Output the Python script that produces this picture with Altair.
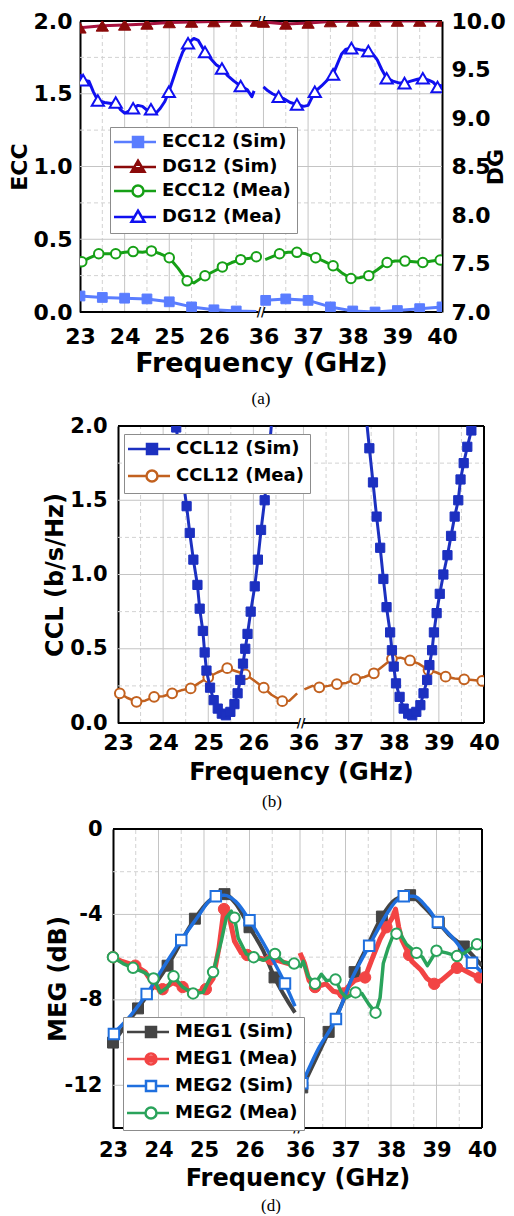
import altair as alt
import pandas as pd

FONT = "DejaVu Sans"
SERIF = "Liberation Serif"
G = 0.11  # width of the axis break, in GHz units of the compressed axis

XTICKS = [23, 24, 25, 26, 36, 37, 38, 39, 40]
XMAJOR = [24, 25, 26, 36, 37, 38, 39]
XMINOR = [23.5, 24.5, 25.5, 26.5, 36.5, 37.5, 38.5, 39.5]
SEG_LO = [23, 36]
SEG_HI = [27, 40]

# ---------------- panel (a) data ----------------
ECCS_L_F = [23.0, 23.5, 24.0, 24.5, 25.0, 25.5, 26.0, 26.5, 26.95]
ECCS_L_V = [0.11, 0.10, 0.095, 0.09, 0.07, 0.035, 0.015, 0.007, 0.003]
ECCS_R_F = [36.05, 36.5, 37.0, 37.5, 38.0, 38.5, 39.0, 39.5, 40.0]
ECCS_R_V = [0.08, 0.09, 0.08, 0.035, 0.007, 0.0, 0.01, 0.023, 0.035]

DGS_L_F = [23.0, 23.5, 24.0, 24.5, 25.0, 25.5, 26.0, 26.5, 26.95]
DGS_L_V = [9.93, 9.95, 9.96, 9.97, 9.985, 9.99, 9.995, 10.0, 10.0]
DGS_R_F = [36.0, 36.5, 37.0, 37.5, 38.0, 38.5, 39.0, 39.5, 40.0]
DGS_R_V = [9.99, 9.97, 9.98, 9.995, 10.0, 10.0, 10.0, 10.0, 10.0]

ECCM_L_F = [23.0, 23.04, 23.2, 23.42, 23.6, 23.8, 24.0, 24.19, 24.4, 24.6, 24.8, 25.0, 25.2, 25.4,
            25.55, 25.7, 25.8, 26.0, 26.19, 26.4, 26.6, 26.8, 26.95]
ECCM_L_V = [0.34, 0.345, 0.37, 0.40, 0.40, 0.40, 0.41, 0.415, 0.41, 0.42, 0.40, 0.373, 0.30, 0.214,
            0.20, 0.23, 0.249, 0.28, 0.31, 0.34, 0.36, 0.37, 0.38]
ECCM_R_F = [36.04, 36.2, 36.36, 36.55, 36.75, 36.95, 37.17, 37.35, 37.56, 37.75, 37.96, 38.15, 38.36,
            38.55, 38.77, 38.95, 39.17, 39.37, 39.57, 39.77, 39.96]
ECCM_R_V = [0.36, 0.38, 0.40, 0.41, 0.41, 0.40, 0.373, 0.35, 0.318, 0.27, 0.23, 0.235, 0.25,
            0.29, 0.34, 0.35, 0.35, 0.345, 0.34, 0.35, 0.357]
ECCM_MK_L_F = [23.04, 23.42, 23.8, 24.19, 24.6, 25.0, 25.4, 25.8, 26.19, 26.6, 26.95]
ECCM_MK_L_V = [0.345, 0.40, 0.40, 0.415, 0.42, 0.373, 0.214, 0.249, 0.31, 0.36, 0.38]
ECCM_MK_R_F = [36.36, 36.75, 37.17, 37.56, 37.96, 38.36, 38.77, 39.17, 39.57, 39.96]
ECCM_MK_R_V = [0.40, 0.41, 0.373, 0.318, 0.23, 0.25, 0.34, 0.35, 0.34, 0.357]

DGM_L_F = [23.0, 23.07, 23.2, 23.3, 23.4, 23.55, 23.7, 23.8, 23.9, 24.0, 24.1, 24.19, 24.3, 24.4, 24.5,
           24.59, 24.7, 24.8, 24.9, 24.99, 25.1, 25.2, 25.3, 25.42, 25.55, 25.65, 25.8, 25.95, 26.05,
           26.18, 26.3, 26.45, 26.6, 26.75, 26.85, 26.9]
DGM_L_V = [9.45, 9.39, 9.38, 9.27, 9.18, 9.16, 9.15, 9.16, 9.09, 9.05, 9.07, 9.10, 9.13, 9.12, 9.08,
           9.09, 9.05, 9.10, 9.17, 9.27, 9.42, 9.56, 9.68, 9.77, 9.82, 9.80, 9.68, 9.60, 9.55,
           9.51, 9.44, 9.38, 9.33, 9.29, 9.22, 9.28]
DGM_R_F = [36.0, 36.1, 36.2, 36.34, 36.45, 36.6, 36.75, 36.9, 37.0, 37.15, 37.3, 37.45, 37.56, 37.65,
           37.75, 37.85, 37.97, 38.1, 38.2, 38.35, 38.45, 38.55, 38.65, 38.76, 38.9, 39.05, 39.16,
           39.3, 39.45, 39.57, 39.7, 39.8, 39.9, 40.0]
DGM_R_V = [9.32, 9.28, 9.25, 9.22, 9.20, 9.16, 9.14, 9.12, 9.13, 9.27, 9.33, 9.40, 9.45, 9.55,
           9.66, 9.71, 9.72, 9.71, 9.70, 9.69, 9.66, 9.60, 9.50, 9.41, 9.38, 9.36, 9.36,
           9.38, 9.40, 9.41, 9.39, 9.37, 9.32, 9.34]
DGM_MK_L_F = [23.07, 23.4, 23.8, 24.19, 24.59, 24.99, 25.42, 25.8, 26.18, 26.6]
DGM_MK_L_V = [9.39, 9.18, 9.16, 9.10, 9.09, 9.27, 9.77, 9.68, 9.51, 9.33]
DGM_MK_R_F = [36.34, 36.75, 37.15, 37.56, 37.97, 38.35, 38.76, 39.16, 39.57, 39.9]
DGM_MK_R_V = [9.22, 9.14, 9.27, 9.45, 9.72, 9.69, 9.41, 9.36, 9.41, 9.32]

# ---------------- panel (b) data ----------------
CCLS_L_F = [24.2, 24.29, 24.52, 24.59, 24.67, 24.76, 24.81, 24.88, 24.92, 24.96, 25.04, 25.12, 25.21,
            25.3, 25.39, 25.49, 25.58, 25.65, 25.71, 25.77, 25.82, 25.87, 25.94, 26.03, 26.1, 26.17,
            26.25, 26.5]
CCLS_L_V = [2.25, 1.99, 1.46, 1.28, 1.10, 0.93, 0.77, 0.62, 0.475, 0.353, 0.238, 0.154, 0.097,
            0.063, 0.052, 0.075, 0.127, 0.20, 0.29, 0.40, 0.50, 0.60, 0.75, 0.92, 1.10, 1.30,
            1.50, 2.35]
CCLS_R_F = [37.35, 37.41, 37.46, 37.54, 37.62, 37.7, 37.77, 37.84, 37.92, 37.96, 38.0, 38.05, 38.13,
            38.22, 38.32, 38.41, 38.5, 38.59, 38.66, 38.74, 38.79, 38.85, 38.89, 38.95, 39.02, 39.1,
            39.19, 39.27, 39.35, 39.43, 39.48, 39.55, 39.63, 39.72, 39.8]
CCLS_R_V = [2.2, 2.0, 1.85, 1.62, 1.39, 1.18, 0.97, 0.78, 0.61, 0.49, 0.38, 0.267, 0.176,
            0.097, 0.063, 0.052, 0.075, 0.12, 0.20, 0.29, 0.39, 0.49, 0.61, 0.74, 0.87, 1.0,
            1.13, 1.26, 1.39, 1.50, 1.64, 1.75, 1.86, 1.97, 2.1]

CCLM_L_F = [23.0, 23.04, 23.2, 23.41, 23.6, 23.8, 24.0, 24.2, 24.4, 24.61, 24.8, 25.0, 25.2, 25.42,
            25.6, 25.82, 26.0, 26.23, 26.4, 26.64, 26.8, 26.97]
CCLM_L_V = [0.21, 0.20, 0.17, 0.143, 0.15, 0.176, 0.18, 0.20, 0.22, 0.233, 0.27, 0.308, 0.34, 0.369,
            0.35, 0.328, 0.29, 0.238, 0.19, 0.147, 0.15, 0.20]
CCLM_R_F = [36.02, 36.2, 36.35, 36.55, 36.74, 36.95, 37.15, 37.35, 37.56, 37.75, 37.96, 38.15, 38.36,
            38.55, 38.77, 38.95, 39.15, 39.35, 39.56, 39.75, 39.96]
CCLM_R_V = [0.226, 0.25, 0.24, 0.25, 0.262, 0.27, 0.296, 0.31, 0.335, 0.38, 0.432, 0.44, 0.421,
            0.40, 0.357, 0.34, 0.312, 0.30, 0.294, 0.29, 0.283]
CCLM_MK_L_F = [23.04, 23.41, 23.8, 24.2, 24.61, 25.0, 25.42, 25.82, 26.23, 26.64]
CCLM_MK_L_V = [0.20, 0.143, 0.176, 0.20, 0.233, 0.308, 0.369, 0.328, 0.238, 0.147]
CCLM_MK_R_F = [36.35, 36.74, 37.15, 37.56, 37.96, 38.36, 38.77, 39.15, 39.56, 39.96]
CCLM_MK_R_V = [0.24, 0.262, 0.296, 0.335, 0.432, 0.421, 0.357, 0.312, 0.294, 0.283]

# ---------------- panel (d) data ----------------
M1S_L_F = [23.0, 23.55, 24.2, 24.8, 25.1, 25.45, 25.7, 26.0, 26.3, 26.55, 27.0]
M1S_L_V = [-10.0, -8.4, -6.4, -4.2, -3.4, -3.05, -3.5, -4.6, -5.7, -6.95, -8.6]
M1S_R_F = [36.05, 36.63, 36.9, 37.2, 37.5, 37.8, 38.1, 38.42, 38.7, 39.05, 39.3, 39.6, 40.0]
M1S_R_V = [-12.1, -9.5, -8.3, -6.7, -5.4, -4.1, -3.3, -3.1, -3.6, -4.4, -5.0, -5.5, -6.4]
M1S_MK_L_F = [23.0, 23.55, 24.2, 24.8, 25.45, 26.0, 26.55]
M1S_MK_L_V = [-10.0, -8.4, -6.4, -4.2, -3.05, -4.6, -6.95]
M1S_MK_R_F = [36.05, 36.63, 37.2, 37.8, 38.42, 39.05, 39.6]
M1S_MK_R_V = [-12.1, -9.5, -6.7, -4.1, -3.1, -4.4, -5.5]

M2S_L_F = [23.0, 23.4, 23.74, 24.1, 24.5, 24.9, 25.1, 25.26, 25.45, 25.7, 26.0, 26.4, 26.78, 27.0]
M2S_L_V = [-9.6, -8.7, -7.73, -6.5, -5.2, -4.0, -3.4, -3.15, -3.1, -3.4, -4.27, -5.7, -7.23, -8.3]
M2S_R_F = [36.05, 36.4, 36.79, 37.1, 37.52, 37.9, 38.1, 38.28, 38.5, 38.8, 39.03, 39.4, 39.78, 40.0]
M2S_R_V = [-11.9, -10.3, -8.9, -7.2, -5.47, -4.0, -3.4, -3.15, -3.15, -3.7, -4.35, -5.2, -6.26, -6.7]
M2S_MK_L_F = [23.02, 23.74, 24.5, 25.26, 26.0, 26.78]
M2S_MK_L_V = [-9.6, -7.73, -5.2, -3.15, -4.27, -7.23]
M2S_MK_R_F = [36.05, 36.79, 37.52, 38.28, 39.03, 39.78]
M2S_MK_R_V = [-11.9, -8.9, -5.47, -3.15, -4.35, -6.26]

M1M_L_F = [23.0, 23.2, 23.49, 23.71, 23.93, 24.09, 24.31, 24.53, 24.78, 25.04, 25.2, 25.33, 25.44,
           25.56, 25.67, 25.82, 26.04, 26.31, 26.53, 26.76, 27.0]
M1M_L_V = [-6.0, -6.2, -6.4, -6.7, -7.4, -7.5, -7.2, -7.4, -7.7, -7.5, -7.0, -5.55, -3.75,
           -4.15, -5.25, -5.8, -5.95, -6.1, -6.1, -6.25, -6.4]
M1M_R_F = [36.0, 36.1, 36.2, 36.33, 36.57, 36.73, 36.95, 37.05, 37.2, 37.43, 37.6, 37.76, 37.9,
           38.03, 38.1, 38.17, 38.24, 38.4, 38.46, 38.66, 38.79, 38.95, 39.1, 39.32, 39.45, 39.6,
           39.82, 40.0]
M1M_R_V = [-5.8, -6.3, -7.1, -7.4, -7.25, -7.6, -7.7, -7.4, -7.1, -6.95, -6.0, -5.15, -4.6,
           -4.15, -3.75, -4.6, -5.2, -5.9, -6.2, -6.6, -7.0, -7.25, -7.1, -6.7, -6.5, -6.6,
           -6.85, -7.0]
M1M_MK_L_F = [23.0, 23.49, 24.09, 24.53, 25.04, 25.44, 25.95, 26.47]
M1M_MK_L_V = [-6.0, -6.4, -7.5, -7.4, -7.5, -3.75, -5.9, -6.1]
M1M_MK_R_F = [36.33, 36.95, 37.43, 37.9, 38.4, 38.95, 39.45, 39.95]
M1M_MK_R_V = [-7.4, -7.7, -6.95, -4.6, -5.9, -7.25, -6.5, -6.95]

M2M_L_F = [23.0, 23.22, 23.44, 23.67, 23.89, 24.04, 24.2, 24.33, 24.53, 24.76, 24.98, 25.2, 25.38,
           25.49, 25.6, 25.67, 25.75, 25.93, 26.09, 26.31, 26.56, 26.76, 26.98]
M2M_L_V = [-6.0, -6.3, -6.5, -6.7, -7.0, -7.65, -7.4, -6.9, -7.4, -7.7, -7.65, -6.7, -5.25,
           -4.15, -3.85, -4.15, -5.1, -5.85, -6.0, -6.15, -5.85, -6.25, -6.3]
M2M_R_F = [36.0, 36.07, 36.18, 36.33, 36.47, 36.58, 36.78, 36.91, 37.02, 37.22, 37.36, 37.51, 37.66,
           37.76, 37.83, 37.94, 38.07, 38.2, 38.34, 38.56, 38.69, 38.8, 39.0, 39.22, 39.45, 39.62,
           39.89, 40.0]
M2M_R_V = [-6.5, -6.2, -6.9, -7.25, -6.8, -7.1, -7.05, -7.65, -7.9, -7.65, -7.7, -8.2, -8.6,
           -7.9, -6.3, -5.55, -4.85, -4.9, -5.4, -5.8, -6.0, -6.4, -5.7, -5.8, -5.95, -5.8,
           -5.4, -5.3]
M2M_MK_L_F = [23.0, 23.44, 23.89, 24.33, 24.76, 25.2, 25.67, 26.09, 26.56, 26.98]
M2M_MK_L_V = [-6.0, -6.5, -7.0, -6.9, -7.7, -6.7, -4.15, -6.0, -5.85, -6.3]
M2M_MK_R_F = [36.33, 36.78, 37.22, 37.66, 38.12, 38.56, 39.0, 39.45, 39.89]
M2M_MK_R_V = [-7.25, -7.05, -7.65, -8.6, -4.9, -5.8, -5.7, -5.95, -5.4]

# ---------------- colours ----------------
C_ECCS = "#5a7dff"
C_DGS_LINE = "#a8123f"
C_DGS_MK = "#8b0a0a"
C_ECCM = "#16a016"
C_DGM = "#1010f0"
C_CCLS = "#1c30c0"
C_CCLM = "#c2611f"
C_M1S = "#444444"
C_M1M = "#f24444"
C_M2S = "#1f6fde"
C_M2M = "#2aa35b"
GRID = "#c4c4c4"
GRID_MINOR = "#d2d2d2"

# ---------------- legend symbol paths (line + marker) ----------------
LINE_SQ = "M-4.8,0H-1M1,0H3.6"
SQ_OPEN = LINE_SQ + "M-1,-1H1V1H-1Z"
SQ_FILL = SQ_OPEN + "M-1,-0.5H1M-1,0H1M-1,0.5H1"
CI_OPEN = "M-4.8,0H-1.1M1.1,0H3.6M-1.1,0A1.1,1.1,0,1,1,1.1,0A1.1,1.1,0,1,1,-1.1,0Z"
CI_FILL = CI_OPEN + "M-0.95,-0.5H0.95M-1.1,0H1.1M-0.95,0.5H0.95"
TR_OPEN = "M-4.8,0H-0.71M0.71,0H3.6M0,-1.25L1.3,0.95L-1.3,0.95Z"
TR_FILL = TR_OPEN + "M-0.5,-0.45H0.5M-0.95,0.25H0.95M-1.2,0.65H1.2"

PANEL_A = dict(W=362, H=291, r0=0, ydom=[0, 2], yticks=[0, 0.5, 1.0, 1.5, 2.0],
               ymajor=[0.5, 1.0, 1.5], yminor=[0.25, 0.75, 1.25, 1.75], fmt=".1f",
               ytitle="ECC", ylfs=22, ylp=8, ytfs=22, ytp=2, off=0,
               xlfs=22, xlp=14, xtfs=27, xtp=3, label="(a)", toff=15, tdx=0)
PANEL_B = dict(W=404, H=297, r0=38, ydom=[0, 2], yticks=[0, 0.5, 1.0, 1.5, 2.0],
               ymajor=[0.5, 1.0, 1.5], yminor=[0.25, 0.75, 1.25, 1.75], fmt=".1f",
               ytitle="CCL (b/s/Hz)", ylfs=21, ylp=11, ytfs=24, ytp=2, off=-38,
               xlfs=22, xlp=9, xtfs=24, xtp=7, label="(b)", toff=10, tdx=-10)
PANEL_D = dict(W=402, H=299, r0=33, ydom=[-14, 0], yticks=[-12, -8, -4, 0],
               ymajor=[-12, -8, -4], yminor=[-10, -6, -2], fmt="d",
               ytitle="MEG (dB)", ylfs=21, ylp=11, ytfs=24, ytp=-6, off=-33,
               xlfs=21, xlp=11, xtfs=24, xtp=6, label="(d)", toff=8, tdx=-10)


def xp(f):
    return f if f < 30 else f - 9 + G


def XP(field):
    return f"datum.{field} < 30 ? datum.{field} : datum.{field} - 9 + {G}"


def X(P, field="xp"):
    axis = alt.Axis(
        values=[xp(v) for v in XTICKS],
        labelExpr=f"datum.value < 27.05 ? format(datum.value, 'd') : format(round(datum.value + 9 - {G}), 'd')",
        labelFlush=False, labelOverlap=False, ticks=False, domain=False, grid=False,
        labelFont=FONT, labelFontSize=P["xlfs"], labelFontWeight="bold", labelColor="black",
        labelPadding=P["xlp"], title="Frequency (GHz)", titleFont=FONT, titleFontSize=P["xtfs"],
        titleFontWeight="bold", titleColor="black", titlePadding=P["xtp"])
    scale = alt.Scale(domain=[23, xp(40)], range=[P["r0"], P["W"]], nice=False, zero=False)
    return alt.X(f"{field}:Q", scale=scale, axis=axis)


def Y(P, field="v"):
    axis = alt.Axis(
        values=P["yticks"], labelExpr=f"format(datum.value, '{P['fmt']}')" if P["fmt"] != "d" else "datum.value + ''",
        ticks=False, grid=False, domain=True,
        domainColor="black", domainWidth=2, labelFont=FONT, labelFontSize=P["ylfs"],
        labelFontWeight="bold", labelColor="black", labelPadding=P["ylp"], title=P["ytitle"],
        titleFont=FONT, titleFontSize=P["ytfs"], titleFontWeight="bold", titleColor="black",
        titlePadding=P["ytp"], offset=P["off"])
    return alt.Y(f"{field}:Q", scale=alt.Scale(domain=P["ydom"], nice=False, zero=False), axis=axis)


def Y_DG(field="v"):
    axis = alt.Axis(
        orient="right", values=[7.0, 7.5, 8.0, 8.5, 9.0, 9.5, 10.0], format=".1f", ticks=False,
        grid=False, domain=True, domainColor="black", domainWidth=2, labelFont=FONT,
        labelFontSize=22, labelFontWeight="bold", labelColor="black", labelPadding=9,
        title="DG", titleFont=FONT, titleFontSize=22, titleFontWeight="bold", titleColor="black",
        titleAngle=270, titlePadding=2)
    return alt.Y(f"{field}:Q", scale=alt.Scale(domain=[7, 10], nice=False, zero=False), axis=axis)


def seg_df(xl, yl, xr, yr):
    return pd.DataFrame({
        "f": list(xl) + list(xr),
        "v": list(yl) + list(yr),
        "seg": ["L"] * len(xl) + ["R"] * len(xr),
    })


def line_layer(df, P, color, width, ych=None, interp="linear"):
    y = ych if ych is not None else Y(P)
    return alt.Chart(df).transform_calculate(xp=XP("f")).mark_line(
        color=color, strokeWidth=width, clip=True, interpolate=interp, strokeJoin="round"
    ).encode(x=X(P), y=y, detail="seg:N", order="f:Q")


def pts_layer(df, P, shape, size, stroke, fill, sw=2.0, ych=None):
    y = ych if ych is not None else Y(P)
    return alt.Chart(df).transform_calculate(xp=XP("f")).mark_point(
        shape=shape, size=size, stroke=stroke, fill=fill, filled=True, strokeWidth=sw,
        opacity=1, fillOpacity=1, clip=True
    ).encode(x=X(P), y=y)


def grid_layers(P, top_break):
    lo, hi = P["ydom"]
    vmaj = pd.DataFrame({"f": XMAJOR, "y0": lo, "y1": hi})
    vmin = pd.DataFrame({"f": XMINOR, "y0": lo, "y1": hi})
    hmaj = pd.DataFrame({"v": P["ymajor"], "f0": 23, "f1": 40})
    hmin = pd.DataFrame({"v": P["yminor"], "f0": 23, "f1": 40})
    layers = [
        alt.Chart(vmin).transform_calculate(xp=XP("f")).mark_rule(
            color=GRID_MINOR, strokeWidth=1, strokeDash=[4, 3]).encode(x=X(P), y=Y(P, "y0"), y2="y1:Q"),
        alt.Chart(hmin).transform_calculate(xp=XP("f0"), xp1=XP("f1")).mark_rule(
            color=GRID_MINOR, strokeWidth=1, strokeDash=[4, 3]).encode(x=X(P), x2="xp1:Q", y=Y(P)),
        alt.Chart(vmaj).transform_calculate(xp=XP("f")).mark_rule(
            color=GRID, strokeWidth=1).encode(x=X(P), y=Y(P, "y0"), y2="y1:Q"),
        alt.Chart(hmaj).transform_calculate(xp=XP("f0"), xp1=XP("f1")).mark_rule(
            color=GRID, strokeWidth=1).encode(x=X(P), x2="xp1:Q", y=Y(P)),
    ]
    bottom = pd.DataFrame({"f0": SEG_LO, "f1": SEG_HI, "v": lo})
    if top_break:
        top = pd.DataFrame({"f0": SEG_LO, "f1": SEG_HI, "v": hi})
    else:
        top = pd.DataFrame({"f0": [23], "f1": [40], "v": hi})
    for d in (bottom, top):
        layers.append(alt.Chart(d).transform_calculate(xp=XP("f0"), xp1=XP("f1")).mark_rule(
            color="black", strokeWidth=2).encode(x=X(P), x2="xp1:Q", y=Y(P)))
    if not top_break:
        right = pd.DataFrame({"f": [40], "y0": lo, "y1": hi})
        layers.append(alt.Chart(right).transform_calculate(xp=XP("f")).mark_rule(
            color="black", strokeWidth=2).encode(x=X(P), y=Y(P, "y0"), y2="y1:Q"))
    return layers


def break_layer(P, top_break):
    lo, hi = P["ydom"]
    vals = [lo, hi] if top_break else [lo]
    d = pd.DataFrame({"v": vals})
    return alt.Chart(d).transform_calculate(xp=f"27 + {G} / 2").mark_text(
        text="//", font=FONT, fontSize=12, fontWeight="bold", color="black",
        align="center", baseline="middle").encode(x=X(P), y=Y(P))


def legend_layer(names, colors, paths, lx, ly, rowpad):
    df = pd.DataFrame({"s": names})
    leg = alt.Legend(
        title=None, orient="none", legendX=lx, legendY=ly, direction="vertical",
        labelFont=FONT, labelFontSize=18, labelFontWeight="bold", labelColor="black", labelLimit=400,
        symbolSize=100, symbolStrokeWidth=2.5, symbolOffset=13, labelOffset=15, symbolOpacity=1,
        rowPadding=rowpad, padding=6, strokeColor="#8c8c8c", fillColor="white", cornerRadius=0)
    return alt.Chart(df).mark_point(size=0, opacity=1, filled=False, strokeWidth=2.5).encode(
        color=alt.Color("s:N", scale=alt.Scale(domain=names, range=colors), legend=leg),
        shape=alt.Shape("s:N", scale=alt.Scale(domain=names, range=paths), legend=leg),
    )


def title_of(P):
    return alt.TitleParams(P["label"], orient="bottom", font=SERIF, fontSize=17,
                           fontWeight="normal", color="black", anchor="middle", frame="group",
                           offset=P["toff"], dx=P["tdx"])


# ---------------- panel (a) ----------------
P = PANEL_A
ecc_sim = seg_df(ECCS_L_F, ECCS_L_V, ECCS_R_F, ECCS_R_V)
ecc_sim_mk = seg_df(ECCS_L_F[:-1], ECCS_L_V[:-1], ECCS_R_F, ECCS_R_V)
ecc_mea = seg_df(ECCM_L_F, ECCM_L_V, ECCM_R_F, ECCM_R_V)
ecc_mea_mk = seg_df(ECCM_MK_L_F, ECCM_MK_L_V, ECCM_MK_R_F, ECCM_MK_R_V)
dg_sim = seg_df(DGS_L_F, DGS_L_V, DGS_R_F, DGS_R_V)
dg_mea = seg_df(DGM_L_F, DGM_L_V, DGM_R_F, DGM_R_V)
dg_mea_mk = seg_df(DGM_MK_L_F, DGM_MK_L_V, DGM_MK_R_F, DGM_MK_R_V)

left_a = alt.layer(
    *grid_layers(P, True),
    line_layer(ecc_sim, P, C_ECCS, 3),
    pts_layer(ecc_sim_mk, P, "square", 95, C_ECCS, C_ECCS, 1),
    line_layer(ecc_mea, P, C_ECCM, 3),
    pts_layer(ecc_mea_mk, P, "circle", 90, C_ECCM, "white", 2),
    break_layer(P, True),
)
right_a = alt.layer(
    line_layer(dg_sim, P, C_DGS_LINE, 3, ych=Y_DG()),
    pts_layer(dg_sim, P, "triangle-up", 150, C_DGS_MK, C_DGS_MK, 1, ych=Y_DG()),
    line_layer(dg_mea, P, C_DGM, 3, ych=Y_DG()),
    pts_layer(dg_mea_mk, P, "triangle-up", 150, C_DGM, "white", 2, ych=Y_DG()),
)
leg_a = legend_layer(
    ["ECC12 (Sim)", "DG12 (Sim)", "ECC12 (Mea)", "DG12 (Mea)"],
    [C_ECCS, C_DGS_MK, C_ECCM, C_DGM],
    [SQ_FILL, TR_FILL, CI_OPEN, TR_OPEN], 30, 106, 3)
chart_a = alt.layer(left_a, right_a, leg_a).resolve_scale(y="independent").properties(
    width=P["W"], height=P["H"], title=title_of(P))

# ---------------- panel (b) ----------------
P = PANEL_B
ccl_sim = seg_df(CCLS_L_F, CCLS_L_V, CCLS_R_F, CCLS_R_V)
ccl_sim_mk = seg_df(CCLS_L_F[1:-1], CCLS_L_V[1:-1], CCLS_R_F[2:-1], CCLS_R_V[2:-1])
ccl_mea = seg_df(CCLM_L_F, CCLM_L_V, CCLM_R_F, CCLM_R_V)
ccl_mea_mk = seg_df(CCLM_MK_L_F, CCLM_MK_L_V, CCLM_MK_R_F, CCLM_MK_R_V)
leg_b = legend_layer(["CCL12 (Sim)", "CCL12 (Mea)"], [C_CCLS, C_CCLM], [SQ_FILL, CI_OPEN], 44, 8, 6)
chart_b = alt.layer(
    *grid_layers(P, False),
    line_layer(ccl_mea, P, C_CCLM, 2.5),
    pts_layer(ccl_mea_mk, P, "circle", 95, C_CCLM, "white", 2),
    line_layer(ccl_sim, P, C_CCLS, 3),
    pts_layer(ccl_sim_mk, P, "square", 85, C_CCLS, C_CCLS, 1),
    break_layer(P, False),
    leg_b,
).properties(width=P["W"], height=P["H"], title=title_of(P))

# ---------------- panel (d) ----------------
P = PANEL_D
m1s = seg_df(M1S_L_F, M1S_L_V, M1S_R_F, M1S_R_V)
m1s_mk = seg_df(M1S_MK_L_F, M1S_MK_L_V, M1S_MK_R_F, M1S_MK_R_V)
m2s = seg_df(M2S_L_F, M2S_L_V, M2S_R_F, M2S_R_V)
m2s_mk = seg_df(M2S_MK_L_F, M2S_MK_L_V, M2S_MK_R_F, M2S_MK_R_V)
m1m = seg_df(M1M_L_F, M1M_L_V, M1M_R_F, M1M_R_V)
m1m_mk = seg_df(M1M_MK_L_F, M1M_MK_L_V, M1M_MK_R_F, M1M_MK_R_V)
m2m = seg_df(M2M_L_F, M2M_L_V, M2M_R_F, M2M_R_V)
m2m_mk = seg_df(M2M_MK_L_F, M2M_MK_L_V, M2M_MK_R_F, M2M_MK_R_V)
leg_d = legend_layer(
    ["MEG1 (Sim)", "MEG1 (Mea)", "MEG2 (Sim)", "MEG2 (Mea)"],
    [C_M1S, C_M1M, C_M2S, C_M2M],
    [SQ_FILL, CI_FILL, SQ_OPEN, CI_OPEN], 43, 188, 6)
chart_d = alt.layer(
    *grid_layers(P, False),
    line_layer(m1s, P, C_M1S, 4, interp="monotone"),
    pts_layer(m1s_mk, P, "square", 120, C_M1S, C_M1S, 1),
    line_layer(m1m, P, C_M1M, 5),
    pts_layer(m1m_mk, P, "circle", 130, C_M1M, C_M1M, 1),
    line_layer(m2s, P, C_M2S, 3.5, interp="monotone"),
    pts_layer(m2s_mk, P, "square", 110, C_M2S, "white", 2),
    line_layer(m2m, P, C_M2M, 3.5),
    pts_layer(m2m_mk, P, "circle", 110, C_M2M, "white", 2),
    break_layer(P, False),
    leg_d,
).properties(width=P["W"], height=P["H"], title=title_of(P))

chart = alt.vconcat(chart_a, chart_b, chart_d, spacing=8).resolve_scale(
    color="independent", shape="independent"
).resolve_legend(
    color="independent", shape="independent"
).properties(
    padding={"left": 8, "top": 10, "right": 0, "bottom": 0},
    background="white",
).configure_view(stroke=None)

chart.save("out.html", embed_options={"renderer": "svg", "actions": False})
